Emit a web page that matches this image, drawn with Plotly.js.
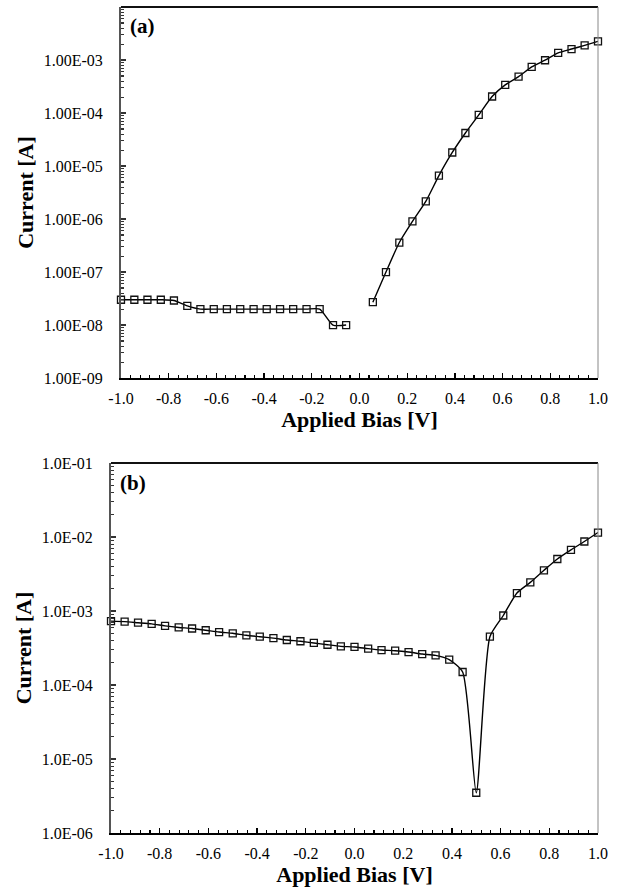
<!DOCTYPE html>
<html>
<head>
<meta charset="utf-8">
<script src="https://cdn.plot.ly/plotly-3.0.1.min.js"></script>
<style>html,body{margin:0;padding:0;background:#fff;} #chart{width:628px;height:894px;}</style>
</head>
<body>
<div id="chart"></div>
<script>
// Applied bias values (V)
const biasA = [-1.0, -0.944, -0.889, -0.833, -0.778, -0.722, -0.667, -0.611, -0.556, -0.5,
  -0.444, -0.389, -0.333, -0.278, -0.222, -0.167, -0.111, -0.056, 0.0, 0.056,
  0.111, 0.167, 0.222, 0.278, 0.333, 0.389, 0.444, 0.5, 0.556, 0.611,
  0.667, 0.722, 0.778, 0.833, 0.889, 0.944, 1.0];
// Panel (a) current (A); null = no point at 0 V
const currentA = [3.0e-8, 3.0e-8, 3.0e-8, 3.0e-8, 2.9e-8, 2.3e-8, 2.0e-8, 2.0e-8, 2.0e-8, 2.0e-8,
  2.0e-8, 2.0e-8, 2.0e-8, 2.0e-8, 2.0e-8, 2.0e-8, 1.0e-8, 1.0e-8, null, 2.7e-8,
  1.0e-7, 3.6e-7, 9.0e-7, 2.15e-6, 6.6e-6, 1.8e-5, 4.2e-5, 9.2e-5, 2.05e-4, 3.4e-4,
  4.85e-4, 7.4e-4, 9.9e-4, 1.36e-3, 1.61e-3, 1.89e-3, 2.25e-3];

const biasB = [-1.0, -0.944, -0.889, -0.833, -0.778, -0.722, -0.667, -0.611, -0.556, -0.5,
  -0.444, -0.389, -0.333, -0.278, -0.222, -0.167, -0.111, -0.056, 0.0, 0.056,
  0.111, 0.167, 0.222, 0.278, 0.333, 0.389, 0.444, 0.5, 0.556, 0.611,
  0.667, 0.722, 0.778, 0.833, 0.889, 0.944, 1.0];
// Panel (b) current (A)
const currentB = [7.3e-4, 7.2e-4, 6.95e-4, 6.7e-4, 6.3e-4, 6.0e-4, 5.8e-4, 5.5e-4, 5.2e-4, 5.0e-4,
  4.7e-4, 4.5e-4, 4.3e-4, 4.06e-4, 3.9e-4, 3.7e-4, 3.5e-4, 3.33e-4, 3.27e-4, 3.1e-4,
  2.97e-4, 2.91e-4, 2.79e-4, 2.62e-4, 2.52e-4, 2.2e-4, 1.5e-4, 3.5e-6, 4.5e-4, 8.7e-4,
  1.75e-3, 2.44e-3, 3.55e-3, 5.05e-3, 6.7e-3, 8.7e-3, 1.15e-2];

// Tick labels
const xTickVals = [-1.0, -0.8, -0.6, -0.4, -0.2, 0.0, 0.2, 0.4, 0.6, 0.8, 1.0];
const xTickText = ["-1.0", "-0.8", "-0.6", "-0.4", "-0.2", "0.0", "0.2", "0.4", "0.6", "0.8", "1.0"];
const yTickValsA = [1e-9, 1e-8, 1e-7, 1e-6, 1e-5, 1e-4, 1e-3, 1e-2];
const yTickTextA = ["1.00E-09", "1.00E-08", "1.00E-07", "1.00E-06", "1.00E-05", "1.00E-04", "1.00E-03", "1.00E-02"];
const yTickValsB = [1e-6, 1e-5, 1e-4, 1e-3, 1e-2, 1e-1];
const yTickTextB = ["1.0E-06", "1.0E-05", "1.0E-04", "1.0E-03", "1.0E-02", "1.0E-01"];

const FONT = "Liberation Serif";

const mk = {symbol: 'square-open', size: 7, color: '#111', line: {width: 1.3, color: '#111'}};

const traces = [
  {x: biasA, y: currentA, xaxis: 'x', yaxis: 'y', type: 'scatter', mode: 'lines+markers',
   line: {color: '#000', width: 1.4, shape: 'spline', smoothing: 0.6}, marker: mk,
   connectgaps: false, cliponaxis: false, hoverinfo: 'x+y'},
  {x: biasB, y: currentB, xaxis: 'x2', yaxis: 'y2', type: 'scatter', mode: 'lines+markers',
   line: {color: '#000', width: 1.4, shape: 'spline', smoothing: 0.6}, marker: mk,
   cliponaxis: false, hoverinfo: 'x+y'}
];

function xAxis(domain, anchor) {
  return {
    domain: domain, anchor: anchor, range: [-1, 1], fixedrange: true,
    tickmode: 'array', tickvals: xTickVals, ticktext: xTickText,
    ticks: 'inside', ticklen: 5, tickwidth: 1.3, tickcolor: '#000',
    minor: {dtick: 0.04, ticks: 'inside', ticklen: 3, tickwidth: 1.1, tickcolor: '#000'},
    showline: true, linecolor: '#000', linewidth: 2,
    showgrid: false, zeroline: false,
    tickfont: {family: FONT, size: 16, color: '#000'},
    ticklabelstandoff: 5,
    title: {text: 'Applied Bias [V]', font: {family: FONT, size: 22, color: '#000', weight: 'bold'}, standoff: 4}
  };
}
function yAxis(domain, anchor, range, vals, text) {
  return {
    domain: domain, anchor: anchor, type: 'log', range: range, fixedrange: true,
    tickmode: 'array', tickvals: vals, ticktext: text,
    ticks: 'inside', ticklen: 5, tickwidth: 1.3, tickcolor: '#333',
    minor: {dtick: 'D1', ticks: 'inside', ticklen: 3, tickwidth: 1.1, tickcolor: '#333'},
    showline: true, linecolor: '#555', linewidth: 2,
    showgrid: false, zeroline: false,
    tickfont: {family: FONT, size: 16, color: '#000'},
    ticklabelstandoff: 13,
    title: {text: 'Current [A]', font: {family: FONT, size: 22, color: '#000', weight: 'bold'}, standoff: 4}
  };
}

const layout = {
  width: 628, height: 894,
  margin: {l: 111, r: 30, t: 7, b: 61},
  paper_bgcolor: '#fff', plot_bgcolor: '#fff',
  showlegend: false,
  font: {family: FONT, color: '#000'},
  xaxis: xAxis([0.0205, 1], 'y'),
  yaxis: yAxis([0.5508, 1], 'x', [-9, -2], yTickValsA, yTickTextA),
  xaxis2: xAxis([0, 1], 'y2'),
  yaxis2: yAxis([0, 0.4479], 'x2', [-6, -1], yTickValsB, yTickTextB),
  shapes: [
    {type: 'line', xref: 'x domain', yref: 'y domain', x0: 0, x1: 1, y0: 1, y1: 1, line: {color: '#111', width: 2}},
    {type: 'line', xref: 'x domain', yref: 'y domain', x0: 1, x1: 1, y0: 0, y1: 1, line: {color: '#888', width: 1}},
    {type: 'line', xref: 'x2 domain', yref: 'y2 domain', x0: 0, x1: 1, y0: 1, y1: 1, line: {color: '#111', width: 2}},
    {type: 'line', xref: 'x2 domain', yref: 'y2 domain', x0: 1, x1: 1, y0: 0, y1: 1, line: {color: '#888', width: 1}}
  ],
  annotations: [
    {text: '<b>(a)</b>', xref: 'x domain', yref: 'y domain', x: 0.0147, y: 0.949, xanchor: 'left', yanchor: 'middle',
     showarrow: false, font: {family: FONT, size: 21, color: '#000'}},
    {text: '<b>(b)</b>', xref: 'x2 domain', yref: 'y2 domain', x: 0.0144, y: 0.947, xanchor: 'left', yanchor: 'middle',
     showarrow: false, font: {family: FONT, size: 21, color: '#000'}}
  ]
};

Plotly.newPlot('chart', traces, layout, {displayModeBar: false, staticPlot: true});
</script>
</body>
</html>
